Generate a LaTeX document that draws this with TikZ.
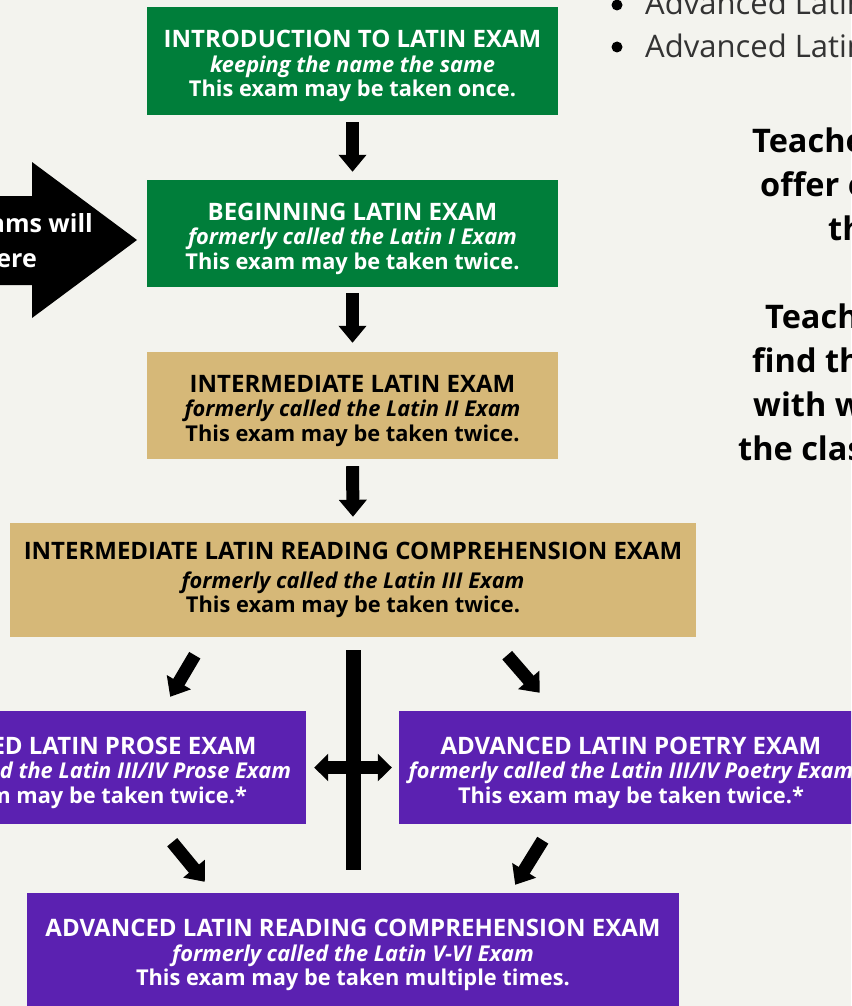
\documentclass[tikz,border=0pt]{standalone}
\usepackage{fontspec}
\setmainfont{Open Sans}
\usetikzlibrary{arrows.meta}
\definecolor{bg}{HTML}{F3F3EE}
\definecolor{egreen}{HTML}{007E3A}
\definecolor{etan}{HTML}{D6B878}
\definecolor{epurple}{HTML}{5B21B1}
\definecolor{dgray}{HTML}{333333}
\newcommand{\examtitle}[1]{{\fontsize{24}{24}\selectfont\rule{0pt}{28pt}#1}}
\newcommand{\examtitleplain}[1]{{\fontsize{24}{24}\selectfont #1}}
\tikzset{
  exambox/.style={rectangle, inner sep=0pt, align=center,
    font=\bfseries\fontsize{21.8}{24.5}\selectfont},
  greenbox/.style={exambox, fill=egreen, text=white},
  tanbox/.style={exambox, fill=etan, text=black},
  purplebox/.style={exambox, fill=epurple, text=white},
  flowarrow/.style={line width=13pt, draw=black,
    -{Triangle[length=17pt,width=27pt]}},
  dblarrow/.style={line width=13pt, draw=black,
    {Triangle[length=14pt,width=27pt]}-{Triangle[length=14pt,width=27pt]}},
  barline/.style={line width=15pt, draw=black},
  sidetext/.style={anchor=base west, inner sep=0pt,
    font=\bfseries\fontsize{32.5}{44}\selectfont, text=black},
  bullettext/.style={anchor=base west, inner sep=0pt,
    font=\fontsize{31}{43}\selectfont, text=dgray},
  arrowtext/.style={anchor=base east, inner sep=0pt,
    font=\bfseries\fontsize{25}{30}\selectfont, text=white},
}
\begin{document}
\begin{tikzpicture}[x=1pt,y=-1pt]
\useasboundingbox (0,0) rectangle (851,1006);
\clip (0,0) rectangle (851,1006);
\fill[bg] (0,0) rectangle (851,1006);

% exam boxes
\node[greenbox, minimum width=411, minimum height=108] (intro) at (352.5,61)
  {\examtitle{INTRODUCTION TO LATIN EXAM}\\ \itshape keeping the name the same\\ This exam may be taken once.};
\node[greenbox, minimum width=411, minimum height=107] (begin) at (352.5,233.5)
  {\examtitle{BEGINNING LATIN EXAM}\\ \itshape formerly called the Latin I Exam\\ This exam may be taken twice.};
\node[tanbox, minimum width=411, minimum height=107] (inter) at (352.5,405.5)
  {\examtitle{INTERMEDIATE LATIN EXAM}\\ \itshape formerly called the Latin II Exam\\ This exam may be taken twice.};
\node[tanbox, minimum width=686, minimum height=114] (irc) at (353,580)
  {\examtitleplain{INTERMEDIATE LATIN READING COMPREHENSION EXAM}\\[4pt] \itshape formerly called the Latin III Exam\\ This exam may be taken twice.};
\node[purplebox, minimum width=464, minimum height=113] (prose) at (74,767.5)
  {\examtitle{ADVANCED LATIN PROSE EXAM}\\ \itshape formerly called the Latin III/IV Prose Exam\\ This exam may be taken twice.*};
\node[purplebox, minimum width=464, minimum height=113] (poetry) at (631,767.5)
  {\examtitle{ADVANCED LATIN POETRY EXAM}\\ \itshape formerly called the Latin III/IV Poetry Exam\\ This exam may be taken twice.*};
\node[purplebox, minimum width=652, minimum height=114] (arc) at (353,950)
  {\examtitle{ADVANCED LATIN READING COMPREHENSION EXAM}\\ \itshape formerly called the Latin V-VI Exam\\ This exam may be taken multiple times.};

% connectors
\draw[flowarrow, shorten <=7pt, shorten >=8pt] (intro.south) -- (begin.north);
\draw[flowarrow, shorten <=6pt, shorten >=9pt] (begin.south) -- (inter.north);
\draw[flowarrow, shorten <=7pt, shorten >=6pt] (inter.south) -- (irc.north);
\draw[flowarrow] ([shift={(185,18)}]irc.south west) -- ([shift={(-136,-14)}]prose.north east);
\draw[flowarrow] ([shift={(-189,18)}]irc.south east) -- ([shift={(141,-18)}]poetry.north west);
\draw[flowarrow] ([shift={(-134,18)}]prose.south east) -- ([shift={(178,-11)}]arc.north west);
\draw[flowarrow] ([shift={(144,16)}]poetry.south west) -- ([shift={(-164,-8)}]arc.north east);
\draw[barline] ([yshift=-13pt]irc.south) -- ([yshift=23pt]arc.north);
\draw[dblarrow, shorten <=8pt, shorten >=7pt] (prose.east) -- (poetry.west);

% big arrow at the left
\fill[black] (-5,196) -- (32,196) -- (32,162) -- (137,240) -- (32,318) -- (32,285) -- (-5,285) -- cycle;
\node[arrowtext] (atext1) at (93,232) {ams will};
\node[arrowtext] (atext2) at (37,267) {ere};

% bullet list top right
\fill[black] (617,5) circle (5.5);
\fill[black] (617,47) circle (5.5);
\node[bullettext] (b1) at (645,15) {Advanced Latin};
\node[bullettext] (b2) at (645,58) {Advanced Latin};

% side notes
\node[sidetext] (s1) at (752,152) {Teache};
\node[sidetext] (s2) at (760,196) {offer o};
\node[sidetext] (s3) at (828,240) {th};
\node[sidetext] (s4) at (765,328) {Teach};
\node[sidetext] (s5) at (752,372) {find th};
\node[sidetext] (s6) at (753,416) {with w};
\node[sidetext] (s7) at (738,460) {the clas};
\end{tikzpicture}
\end{document}
